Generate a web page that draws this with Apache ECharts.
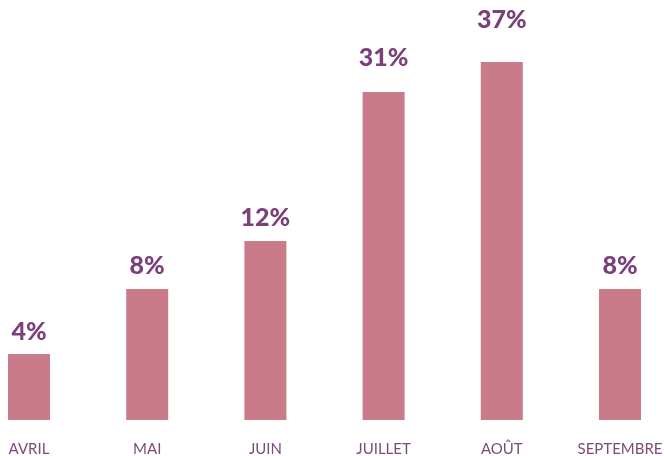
<!DOCTYPE html>
<html>
<head>
<meta charset="utf-8">
<style>
  html, body { margin: 0; padding: 0; background: #fff; }
  #main { width: 664px; height: 456px; }
</style>
<script src="https://cdn.jsdelivr.net/npm/echarts@6/dist/echarts.min.js"></script>
</head>
<body>
<div id="main"></div>
<script>
// mois de la saison
var months = ['AVRIL', 'MAI', 'JUIN', 'JUILLET', 'AOÛT', 'SEPTEMBRE'];
// hauteur des barres
var barValues = [6.6, 13.1, 17.9, 32.8, 35.8, 13.1];
// étiquettes affichées au-dessus des barres
var barLabels = ['4%', '8%', '12%', '31%', '37%', '8%'];
// écart étiquette / barre (px)
var labelGap = [10, 11, 11, 22, 30, 11];

var chart = echarts.init(document.getElementById('main'));

var seriesData = barValues.map(function (v, i) {
  return {
    value: v,
    label: { distance: labelGap[i], formatter: barLabels[i] }
  };
});

chart.setOption({
  animation: false,
  grid: { left: 29, right: 44, top: 20, bottom: 36, outerBoundsMode: 'none', containLabel: false },
  xAxis: {
    type: 'category',
    data: months,
    boundaryGap: false,
    axisLine: { show: false },
    axisTick: { show: false },
    axisLabel: {
      color: '#7d4b7b',
      fontFamily: 'Lato',
      fontSize: 15,
      margin: 22,
      interval: 0
    }
  },
  yAxis: {
    type: 'value',
    min: 0,
    max: 40,
    show: false,
    splitLine: { show: false }
  },
  series: [{
    type: 'bar',
    barWidth: 42,
    itemStyle: { color: '#c97b8a' },
    label: {
      show: true,
      position: 'top',
      color: '#7b3f7a',
      fontFamily: 'Lato',
      fontWeight: 900,
      fontSize: 25
    },
    data: seriesData
  }]
});
</script>
</body>
</html>
